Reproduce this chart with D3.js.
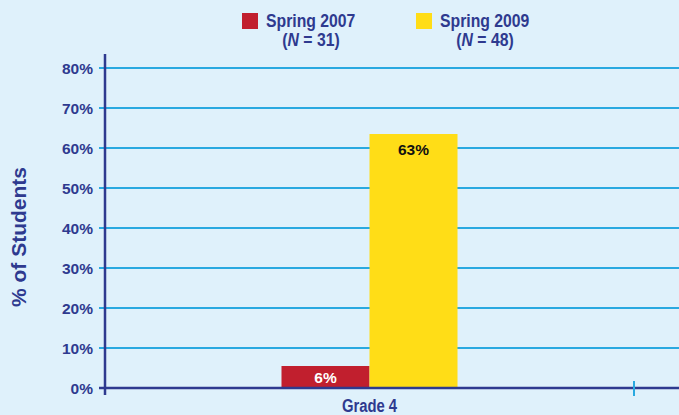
<!DOCTYPE html>
<html><head><meta charset="utf-8">
<script src="https://cdn.jsdelivr.net/npm/d3@7"></script>
<style>
html,body{margin:0;padding:0;background:#dff1fb;}
svg{display:block;}
</style></head>
<body>
<script>
const categories = ["Grade 4"];
const seriesNames = ["Spring 2007", "Spring 2009"];
const seriesN = [31, 48];
const spring2007 = [5.5];
const spring2009 = [63.5];
const barLabels2007 = ["6%"];
const barLabels2009 = ["63%"];
const yTicks = [0, 10, 20, 30, 40, 50, 60, 70, 80];
const yTitle = "% of Students";

const W = 679, H = 415;
const colors = ["#c11f2e", "#ffdd17"];
const navy = "#2e3a8f", grid = "#29a9e0";
const regular = "'Liberation Sans',Arial,Helvetica,sans-serif";

const svg = d3.select("body").append("svg").attr("width", W).attr("height", H);
svg.append("rect").attr("width", W).attr("height", H).attr("fill", "#dff1fb");

const y = d3.scaleLinear().domain([0, 80]).range([388, 68]);
const x0 = d3.scaleBand().domain(categories).range([105, 634]).paddingInner(0).paddingOuter(1.0028);
const x1 = d3.scaleBand().domain(seriesNames).range([0, x0.bandwidth()]);

// gridlines
svg.append("g").selectAll("line").data(yTicks.filter(d => d > 0)).join("line")
  .attr("x1", 99).attr("x2", W).attr("y1", d => y(d)).attr("y2", d => y(d))
  .attr("stroke", grid).attr("stroke-width", 2);

// y tick labels
svg.append("g").selectAll("text").data(yTicks).join("text")
  .attr("x", 93).attr("y", d => y(d) + 5.5).attr("text-anchor", "end")
  .attr("font-family", regular).attr("font-weight", "bold").attr("font-size", 15.5)
  .attr("fill", navy).text(d => d + "%");

// y title
svg.append("text").attr("transform", "translate(26,237) rotate(-90)")
  .attr("text-anchor", "middle").attr("font-family", regular).attr("font-weight", "bold")
  .attr("font-size", 21).attr("fill", navy).text(yTitle);

// bars
const data = categories.map((c, i) => ({cat: c, vals: [
  {s: seriesNames[0], v: spring2007[i], lab: barLabels2007[i]},
  {s: seriesNames[1], v: spring2009[i], lab: barLabels2009[i]}]}));
const g = svg.append("g");
data.forEach(d => {
  d.vals.forEach((b, j) => {
    g.append("rect").attr("x", x0(d.cat) + x1(b.s)).attr("width", x1.bandwidth())
      .attr("y", y(b.v)).attr("height", y(0) - y(b.v)).attr("fill", colors[j]);
    const cx = x0(d.cat) + x1(b.s) + x1.bandwidth() / 2;
    const ty = j === 0 ? y(b.v) + 17 : y(b.v) + 21;
    g.append("text").attr("x", cx).attr("y", ty).attr("text-anchor", "middle")
      .attr("font-family", regular).attr("font-weight", "bold").attr("font-size", 15.5)
      .attr("fill", j === 0 ? "#ffffff" : "#111111").text(b.lab);
  });
});

// x axis line
svg.append("line").attr("x1", 99).attr("x2", W).attr("y1", y(0)).attr("y2", y(0))
  .attr("stroke", navy).attr("stroke-width", 2.5);
// x ticks at band edges
svg.append("g").selectAll("line").data([x0.range()[1]]).join("line")
  .attr("x1", d => d).attr("x2", d => d).attr("y1", 381).attr("y2", 396)
  .attr("stroke", grid).attr("stroke-width", 2);
// y axis line
svg.append("line").attr("x1", 105).attr("x2", 105).attr("y1", 54).attr("y2", 395)
  .attr("stroke", navy).attr("stroke-width", 2.5);

// x labels
svg.append("g").selectAll("text").data(categories).join("text")
  .attr("transform", d => `translate(${x0(d) + x0.bandwidth() / 2},412) scale(0.78,1)`)
  .attr("text-anchor", "middle")
  .attr("font-family", regular).attr("font-weight", "bold").attr("font-size", 19)
  .attr("fill", navy).text(d => d);

// legend
const legX = [242, 416];
seriesNames.forEach((s, i) => {
  svg.append("rect").attr("x", legX[i]).attr("y", 13).attr("width", 16).attr("height", 16).attr("fill", colors[i]);
  svg.append("text").attr("transform", `translate(${legX[i] + 24},27) scale(0.83,1)`)
    .attr("font-family", regular).attr("font-weight", "bold")
    .attr("font-size", 19).attr("fill", navy).text(s);
  const t2 = svg.append("text").attr("transform", `translate(${legX[i] + 69},45.5) scale(0.83,1)`)
    .attr("font-family", regular).attr("font-weight", "bold")
    .attr("font-size", 19).attr("fill", navy).attr("text-anchor", "middle");
  t2.append("tspan").text("(");
  t2.append("tspan").attr("font-style", "italic").text("N");
  t2.append("tspan").text(" = " + seriesN[i] + ")");
});
</script>
</body></html>
